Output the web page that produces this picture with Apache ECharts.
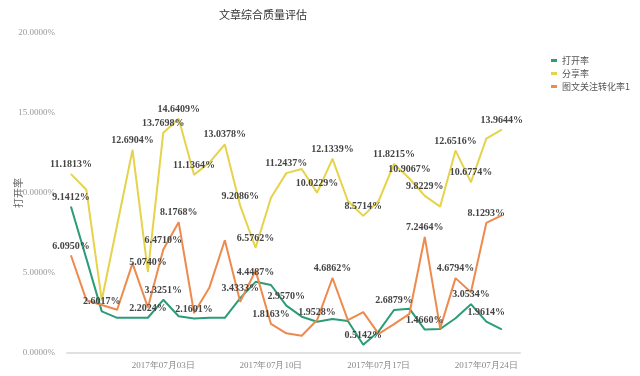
<!DOCTYPE html>
<html>
<head>
<meta charset="utf-8">
<script src="https://cdn.jsdelivr.net/npm/echarts@6/dist/echarts.min.js"></script>
<style>
html,body{margin:0;padding:0;background:#fff;}
#main{width:640px;height:376px;}
</style>
</head>
<body>
<div id="main"></div>
<script>
var dates = ['2017-06-27','2017-06-28','2017-06-29','2017-06-30','2017-07-01','2017-07-02','2017-07-03',
    '2017-07-04','2017-07-05','2017-07-06','2017-07-07','2017-07-08','2017-07-09','2017-07-10',
    '2017-07-11','2017-07-12','2017-07-13','2017-07-14','2017-07-15','2017-07-16','2017-07-17',
    '2017-07-18','2017-07-19','2017-07-20','2017-07-21','2017-07-22','2017-07-23','2017-07-24','2017-07-25'];
var xTicks = ['2017-07-03','2017-07-10','2017-07-17','2017-07-24'];
var legendNames = ['打开率','分享率','图文关注转化率1'];

// 打开率
var openRate = [9.1412,5.9,2.6017,2.2,2.2,2.2024,3.3251,2.3,2.1601,2.2,2.2,3.4333,4.4487,4.25,2.9570,
    2.27,1.9528,2.13,2.0,0.5142,1.35,2.6879,2.77,1.4660,1.5,2.17,3.0534,1.9614,1.48];
// 分享率
var shareRate = [11.1813,10.2,3.3,8.0,12.6904,5.0740,13.7698,14.6409,11.1364,11.9,13.0378,9.2086,6.5762,9.7,11.2437,
    11.5,10.0229,12.1339,9.5,8.5714,9.5,11.8215,10.9067,9.8229,9.15,12.6516,10.6774,13.4,13.9644];
// 图文关注转化率1
var followRate = [6.0950,3.3,3.0,2.7,5.6,2.85,6.4710,8.1768,2.5,4.1,7.05,3.2,5.15,1.8163,1.23,
    1.08,2.06,4.6862,2.06,2.55,1.2,1.8,2.45,7.2464,1.54,4.6794,3.8,8.1293,8.6];

// points that carry a value label
var openLabelIdx = [0,2,5,6,8,11,12,14,16,19,21,23,26,27];
var shareLabelIdx = [0,4,5,6,7,8,10,11,12,14,16,17,19,21,22,23,25,26,28];
var followLabelIdx = [0,6,7,13,17,23,25,27];

function dateLabel(s) {
    var p = s.split('-');
    return p[0] + '年' + p[1] + '月' + p[2] + '日';
}

// x is the day position in the dates list
function buildData(values, labelIdx) {
    return values.map(function (v, i) {
        return {
            value: [i, v],
            label: { show: labelIdx.indexOf(i) >= 0 }
        };
    });
}

var labelStyle = {
    position: 'top',
    distance: 4,
    color: '#444',
    fontSize: 10,
    fontWeight: 'bold',
    fontFamily: 'Liberation Serif',
    formatter: function (p) { return p.value[1].toFixed(4) + '%'; }
};

function lineSeries(name, values, labelIdx, color) {
    return {
        name: name,
        type: 'line',
        data: buildData(values, labelIdx),
        symbol: 'circle',
        symbolSize: 1,
        showSymbol: true,
        lineStyle: { width: 2, color: color },
        itemStyle: { color: color },
        label: labelStyle,
        animation: false
    };
}

var myChart = echarts.init(document.getElementById('main'));

var option = {
    backgroundColor: '#fff',
    color: ['#2b9c78', '#e5d34c', '#ee8a4c'],
    title: {
        text: '文章综合质量评估',
        left: 214,
        top: 4,
        textStyle: { fontSize: 11, fontWeight: 'normal', color: '#333', fontFamily: 'Noto Sans CJK SC' }
    },
    legend: {
        data: legendNames,
        orient: 'vertical',
        left: 546,
        top: 51,
        icon: 'rect',
        itemWidth: 6,
        itemHeight: 3,
        itemGap: 4,
        textStyle: { fontSize: 9, color: '#555', fontFamily: 'Noto Sans CJK SC' }
    },
    grid: { left: 67, right: 120, top: 33, bottom: 23, containLabel: false, outerBoundsMode: 'none' },
    xAxis: {
        type: 'value',
        min: -0.26,
        max: dates.length - 1 + 1.19,
        axisLine: { lineStyle: { color: '#e0e0e0', width: 2 } },
        axisTick: { show: false },
        splitLine: { show: false },
        axisLabel: {
            customValues: xTicks.map(function (d) { return dates.indexOf(d); }),
            color: '#888',
            fontSize: 9,
            fontFamily: 'Liberation Serif',
            margin: 8,
            formatter: function (v) { return dateLabel(dates[Math.round(v)]); }
        }
    },
    yAxis: {
        type: 'value',
        min: 0,
        max: 20,
        interval: 5,
        name: '打开率',
        nameLocation: 'middle',
        nameRotate: 90,
        nameGap: 44,
        nameMoveOverlap: false,
        nameTextStyle: { color: '#666', fontSize: 10, fontFamily: 'Noto Sans CJK SC' },
        axisLine: { show: false },
        axisTick: { show: false },
        splitLine: { show: false },
        axisLabel: {
            color: '#999',
            fontSize: 9,
            fontFamily: 'Liberation Serif',
            margin: 12,
            formatter: function (v) { return v.toFixed(4) + '%'; }
        }
    },
    series: [
        lineSeries(legendNames[0], openRate, openLabelIdx, '#2b9c78'),
        lineSeries(legendNames[1], shareRate, shareLabelIdx, '#e5d34c'),
        lineSeries(legendNames[2], followRate, followLabelIdx, '#ee8a4c')
    ]
};

if (option && typeof option === 'object') {
    myChart.setOption(option, true);
}
</script>
</body>
</html>
